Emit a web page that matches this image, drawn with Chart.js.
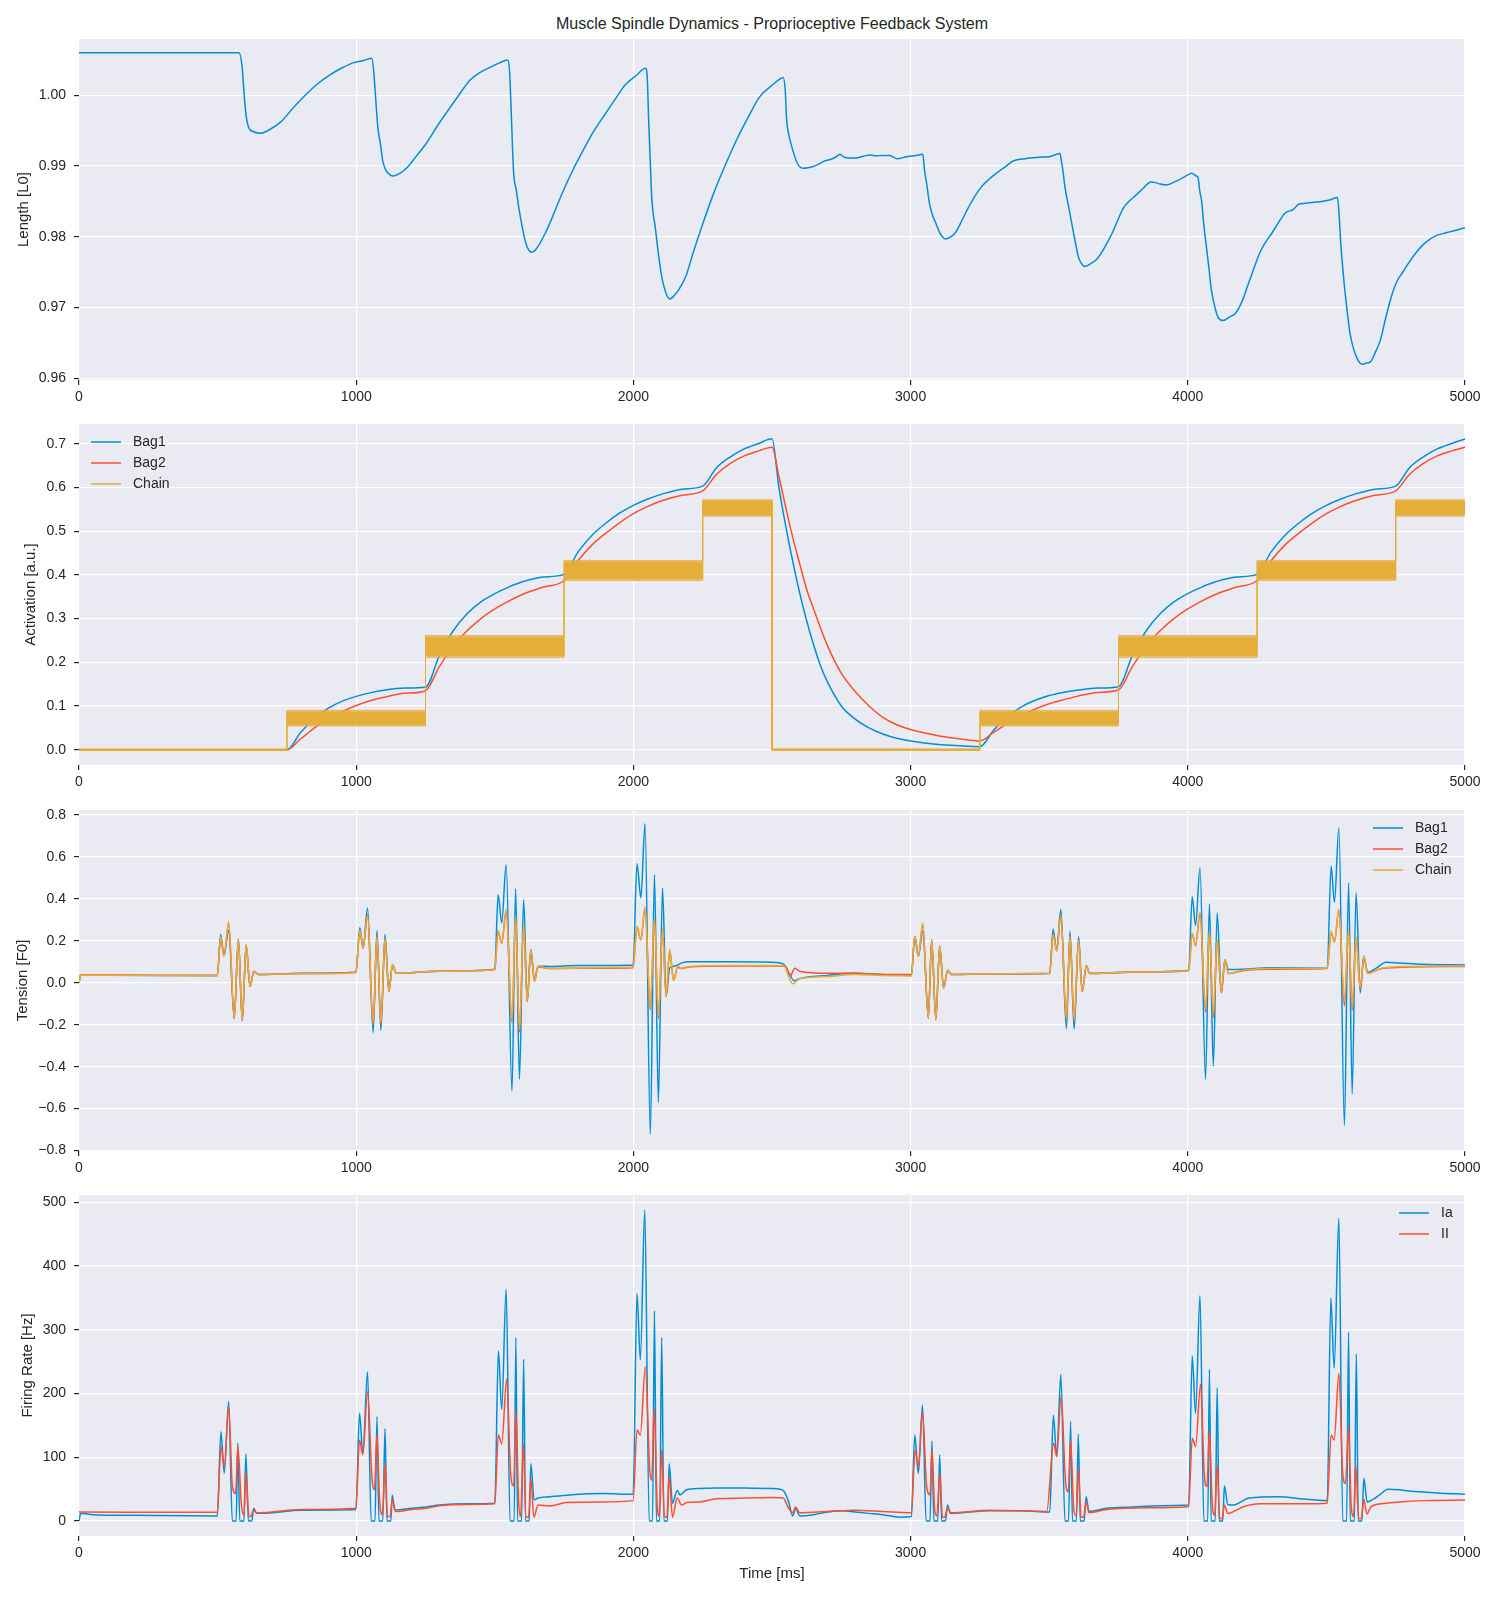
<!DOCTYPE html>
<html lang="en">
<head>
  <meta charset="UTF-8">
  <title>Muscle Spindle Dynamics</title>
  <script src="https://cdn.jsdelivr.net/npm/chart.js"></script>
  <style>
    body { margin: 0; background: #fff; }
    #wrap { position: relative; width: 1500px; height: 1600px; }
    #wrap canvas { position: absolute; left: 0; }
    #title { position: absolute; left: 79px; width: 1386px; top: 15px; text-align: center;
             font: 16px "Liberation Sans", Arial, sans-serif; color: #262626; line-height: 18px; }
  </style>
</head>
<body>
<div id="wrap">
  <div id="title">Muscle Spindle Dynamics - Proprioceptive Feedback System</div>
  <canvas id="lengthChart" width="1500" height="385" style="top:27px"></canvas>
  <canvas id="activationChart" width="1500" height="385" style="top:412px"></canvas>
  <canvas id="tensionChart" width="1500" height="385" style="top:798px"></canvas>
  <canvas id="firingChart" width="1500" height="417" style="top:1183px"></canvas>
</div>

<script>
  // ---- data: [time ms, value] ----
  const xTicks = [0, 1000, 2000, 3000, 4000, 5000];
  const xTickLabels = ['0', '1000', '2000', '3000', '4000', '5000'];

  const lengthTicks = [0.96, 0.97, 0.98, 0.99, 1.00];
  const lengthTickLabels = ['0.96', '0.97', '0.98', '0.99', '1.00'];
  const activationTicks = [0, 0.1, 0.2, 0.3, 0.4, 0.5, 0.6, 0.7];
  const activationTickLabels = ['0.0', '0.1', '0.2', '0.3', '0.4', '0.5', '0.6', '0.7'];
  const tensionTicks = [-0.8, -0.6, -0.4, -0.2, 0, 0.2, 0.4, 0.6, 0.8];
  const tensionTickLabels = ['\u22120.8', '\u22120.6', '\u22120.4', '\u22120.2', '0.0', '0.2', '0.4', '0.6', '0.8'];
  const firingTicks = [0, 100, 200, 300, 400, 500];
  const firingTickLabels = ['0', '100', '200', '300', '400', '500'];

  const fiberNames = ['Bag1', 'Bag2', 'Chain'];
  const afferentNames = ['Ia', 'II'];

  const lengthL0 = [
    [0,1.00603],[577,1.00603],[588,1.0042],[597,0.9995],[604,0.9968],[612,0.99545],[630,0.99485],[654,0.99463],[690,0.9952],
    [729,0.99628],[770,0.9981],[816,1.0000],[860,1.0016],[904,1.00287],[950,1.0039],[991,1.00462],[1030,1.00495],[1056,1.00525],
    [1063,1.0035],[1070,0.9997],[1078,0.9955],[1087,0.99322],[1096,0.9907],[1108,0.98935],[1122,0.98875],[1135,0.9886],[1160,0.98905],
    [1184,0.9898],[1215,0.9913],[1253,0.99322],[1295,0.9958],[1341,0.9984],[1375,1.0003],[1411,1.00217],[1445,1.0032],[1481,1.00391],
    [1515,1.00455],[1547,1.005],
    [1553,1.0035],[1558,0.999],[1564,0.9925],[1568,0.989],[1578,0.9865],[1586,0.98427],[1600,0.9812],[1612,0.97909],[1623,0.9781],
    [1633,0.97781],[1650,0.9783],[1682,0.9805],[1710,0.983],[1743,0.98615],[1780,0.9893],[1813,0.9918],[1858,0.995],[1900,0.99746],
    [1935,0.9995],[1970,1.00146],[2010,1.0028],[2044,1.00382],
    [2050,1.0025],[2055,0.9965],[2062,0.9895],[2066,0.98568],[2080,0.981],[2093,0.97673],[2105,0.9738],[2114,0.97249],[2122,0.9716],
    [2131,0.97122],[2145,0.9716],[2163,0.97249],[2190,0.9745],[2215,0.97767],[2250,0.9818],[2285,0.98568],[2330,0.99],[2372,0.99369],
    [2410,0.9966],[2456,0.99981],[2500,1.0014],[2541,1.0025],
    [2548,1.0005],[2553,0.9965],[2560,0.9945],[2568,0.9932],[2577,0.992],[2590,0.9905],[2611,0.98968],[2630,0.98975],[2646,0.9899],
    [2670,0.9903],[2690,0.99072],[2716,0.991],[2735,0.9914],[2745,0.99166],[2758,0.9913],[2775,0.99114],[2803,0.99114],[2830,0.9914],
    [2855,0.99155],[2875,0.99145],[2900,0.9915],[2925,0.99148],[2951,0.99102],[2986,0.99133],[3020,0.9915],[3044,0.99166],
    [3050,0.9895],[3058,0.9875],[3068,0.98474],[3078,0.9832],[3091,0.98191],[3105,0.9806],[3115,0.98],[3126,0.9797],[3142,0.97995],
    [3160,0.9805],[3180,0.9819],[3204,0.9838],[3230,0.9856],[3256,0.98709],[3285,0.9882],[3317,0.98921],[3345,0.99],[3370,0.99072],
    [3413,0.99105],[3466,0.99124],[3500,0.99133],[3539,0.99176],
    [3545,0.9905],[3549,0.9895],[3557,0.987],[3570,0.98427],[3588,0.9805],[3597,0.9787],[3605,0.9772],[3615,0.9763],[3628,0.97579],
    [3650,0.9762],[3675,0.97697],[3700,0.9785],[3727,0.9805],[3767,0.98403],[3790,0.9851],[3814,0.98592],[3840,0.9869],[3867,0.98775],
    [3884,0.98766],[3900,0.98745],[3919,0.98733],[3935,0.98745],[3954,0.9878],[3985,0.9884],[4015,0.98898],[4030,0.9886],[4037,0.98841],
    [4043,0.9865],[4050,0.985],[4057,0.982],[4064,0.97956],[4075,0.976],[4085,0.97249],[4098,0.97],[4111,0.96849],[4128,0.96816],
    [4150,0.96865],[4172,0.9692],[4195,0.9708],[4215,0.97296],[4240,0.9757],[4259,0.97767],[4280,0.9792],[4303,0.9805],[4327,0.982],
    [4350,0.98333],[4381,0.98389],[4400,0.9846],[4425,0.98474],[4455,0.9849],[4477,0.98497],[4510,0.9852],[4540,0.98554],
    [4546,0.983],[4552,0.979],[4564,0.97343],[4575,0.9695],[4585,0.96637],[4597,0.9643],[4608,0.96307],[4620,0.9622],[4630,0.96199],
    [4645,0.96215],[4660,0.96236],[4678,0.9638],[4695,0.96543],[4715,0.9687],[4738,0.97202],[4755,0.97375],[4773,0.97485],[4795,0.9762],
    [4817,0.97744],[4855,0.9791],[4895,0.98017],[4920,0.98045],[4948,0.98073],[4975,0.981],[5000,0.9813]
  ];

  const activationBag1 = [
    [0,0],[750,0],[800,0.04],[850,0.072],[900,0.095],[950,0.111],[1000,0.122],[1050,0.13],[1100,0.136],[1175,0.141],[1250,0.143],
    [1300,0.215],[1350,0.272],[1400,0.311],[1450,0.338],[1500,0.357],[1550,0.372],[1600,0.384],[1675,0.395],[1750,0.401],
    [1800,0.452],[1850,0.49],[1900,0.518],[1950,0.541],[2000,0.559],[2050,0.573],[2100,0.584],[2175,0.596],[2250,0.603],
    [2300,0.645],[2350,0.67],[2400,0.688],[2450,0.7],[2500,0.711],
    [2525,0.6],[2550,0.51],[2575,0.43],[2600,0.358],[2625,0.295],[2650,0.24],[2675,0.192],[2700,0.155],[2750,0.1],[2800,0.07],
    [2850,0.05],[2900,0.036],[2950,0.026],[3000,0.02],[3100,0.012],[3175,0.009],[3250,0.007],
    [3300,0.045],[3350,0.075],[3400,0.098],[3450,0.113],[3500,0.124],[3550,0.131],[3600,0.136],[3675,0.141],[3750,0.144],
    [3800,0.215],[3850,0.272],[3900,0.311],[3950,0.338],[4000,0.357],[4050,0.372],[4100,0.384],[4175,0.395],[4250,0.401],
    [4300,0.452],[4350,0.49],[4400,0.518],[4450,0.541],[4500,0.559],[4550,0.573],[4600,0.584],[4675,0.596],[4750,0.603],
    [4800,0.645],[4850,0.67],[4900,0.688],[4950,0.7],[5000,0.711]
  ];
  const activationBag2 = [
    [0,0],[750,0],[800,0.025],[850,0.05],[900,0.07],[950,0.087],[1000,0.101],[1050,0.112],[1100,0.12],[1175,0.129],[1250,0.135],
    [1300,0.19],[1350,0.237],[1400,0.272],[1450,0.3],[1500,0.322],[1550,0.34],[1600,0.355],[1675,0.372],[1750,0.387],
    [1800,0.432],[1850,0.468],[1900,0.495],[1950,0.519],[2000,0.54],[2050,0.556],[2100,0.569],[2175,0.582],[2250,0.592],
    [2300,0.63],[2350,0.655],[2400,0.672],[2450,0.683],[2500,0.692],
    [2525,0.625],[2550,0.553],[2575,0.485],[2600,0.425],[2625,0.367],[2650,0.322],[2700,0.238],[2750,0.175],[2800,0.133],
    [2850,0.1],[2900,0.074],[2950,0.057],[3000,0.046],[3100,0.032],[3175,0.025],[3250,0.02],
    [3300,0.04],[3350,0.06],[3400,0.078],[3450,0.093],[3500,0.105],[3550,0.114],[3600,0.122],[3675,0.131],[3750,0.137],
    [3800,0.19],[3850,0.237],[3900,0.272],[3950,0.3],[4000,0.322],[4050,0.34],[4100,0.355],[4175,0.372],[4250,0.387],
    [4300,0.432],[4350,0.468],[4400,0.495],[4450,0.519],[4500,0.54],[4550,0.556],[4600,0.569],[4675,0.582],[4750,0.592],
    [4800,0.63],[4850,0.655],[4900,0.672],[4950,0.683],[5000,0.692]
  ];
  // chain fibre: stepped drive with a noisy band (dense core + spiky fringe)
  const chainStarts = [0, 750, 1250, 1750, 2250, 2500, 3250, 3750, 4250, 4750];
  const chainLevels = [0, 0.072, 0.236, 0.41, 0.553, 0, 0.072, 0.236, 0.41, 0.553];
  const chainCore = [0.0012, 0.014, 0.02, 0.019, 0.015, 0.0012, 0.014, 0.02, 0.019, 0.015];
  const chainFringe = [0.0016, 0.018, 0.025, 0.023, 0.019, 0.0016, 0.018, 0.025, 0.023, 0.019];

  const tensionBag1 = [
    [0,0],[6,0.038],[100,0.036],[300,0.035],[499,0.035],
    [511,0.23],[523,0.13],[540,0.25],[560,-0.17],[575,0.21],[589,-0.18],[603,0.18],[617,-0.016],[631,0.055],[647,0.04],[800,0.045],[999,0.05],
    [1013,0.262],[1025,0.167],[1041,0.357],[1061,-0.238],[1075,0.25],[1089,-0.227],[1104,0.23],[1118,-0.04],[1131,0.087],[1145,0.045],[1300,0.055],[1500,0.065],
    [1512,0.42],[1525,0.286],[1541,0.563],[1562,-0.516],[1575,0.448],[1589,-0.46],[1604,0.397],[1617,-0.087],[1630,0.159],[1643,0.016],[1656,0.079],
    [1700,0.078],[1800,0.082],[1999,0.085],
    [2013,0.568],[2027,0.405],[2042,0.759],[2061,-0.722],[2076,0.516],[2090,-0.571],[2105,0.452],[2118,-0.064],[2131,0.07],[2150,0.08],[2175,0.095],
    [2200,0.1],[2350,0.1],[2500,0.098],[2540,0.09],[2560,0.05],[2580,0.01],[2600,0.02],[2700,0.035],[2800,0.045],[2900,0.04],[3003,0.035],
    [3015,0.222],[3028,0.127],[3044,0.246],[3064,-0.167],[3076,0.206],[3091,-0.173],[3105,0.175],[3119,-0.024],[3134,0.06],[3147,0.04],[3300,0.042],[3502,0.044],
    [3514,0.255],[3527,0.154],[3542,0.349],[3562,-0.22],[3575,0.246],[3590,-0.222],[3606,0.22],[3619,-0.04],[3634,0.083],[3646,0.044],[3800,0.052],[4003,0.06],
    [4016,0.41],[4028,0.273],[4044,0.548],[4064,-0.46],[4078,0.376],[4092,-0.397],[4106,0.333],[4121,-0.048],[4134,0.11],[4147,0.063],[4200,0.065],[4300,0.072],[4503,0.07],
    [4517,0.556],[4529,0.384],[4545,0.738],[4565,-0.68],[4580,0.476],[4593,-0.529],[4607,0.429],[4622,-0.048],[4635,0.127],[4649,0.05],[4680,0.07],
    [4715,0.098],[4760,0.095],[4850,0.088],[5000,0.085]
  ];
  const tensionBag2 = [
    [0,0],[6,0.038],[499,0.035],
    [511,0.22],[523,0.128],[540,0.28],[560,-0.17],[575,0.205],[589,-0.18],[603,0.178],[617,-0.018],[631,0.054],[647,0.04],[800,0.044],[999,0.05],
    [1013,0.25],[1025,0.165],[1041,0.325],[1061,-0.2],[1075,0.222],[1089,-0.2],[1104,0.21],[1118,-0.042],[1131,0.085],[1145,0.045],[1300,0.055],[1500,0.063],
    [1512,0.245],[1525,0.188],[1541,0.34],[1562,-0.19],[1575,0.31],[1589,-0.235],[1604,0.27],[1617,-0.09],[1630,0.155],[1643,0.006],[1656,0.075],
    [1700,0.068],[1850,0.07],[1999,0.072],
    [2013,0.265],[2027,0.204],[2042,0.355],[2061,-0.13],[2076,0.3],[2090,-0.17],[2105,0.25],[2118,-0.066],[2131,0.15],[2145,0.012],[2160,0.075],
    [2172,0.068],[2200,0.075],[2350,0.08],[2500,0.08],[2550,0.078],[2565,0.03],[2582,0.07],[2600,0.055],[2700,0.045],[2800,0.045],[2900,0.04],[3003,0.04],
    [3015,0.22],[3028,0.128],[3044,0.275],[3064,-0.17],[3076,0.205],[3091,-0.176],[3105,0.173],[3119,-0.026],[3134,0.058],[3147,0.04],[3300,0.043],[3502,0.045],
    [3514,0.232],[3527,0.152],[3542,0.322],[3562,-0.18],[3575,0.224],[3590,-0.185],[3606,0.2],[3619,-0.042],[3634,0.08],[3646,0.045],[3800,0.05],[4003,0.057],
    [4016,0.235],[4028,0.176],[4044,0.33],[4064,-0.14],[4078,0.24],[4092,-0.165],[4106,0.2],[4121,-0.045],[4134,0.105],[4147,0.044],[4200,0.058],[4300,0.065],[4503,0.068],
    [4517,0.24],[4529,0.195],[4545,0.345],[4565,-0.11],[4580,0.25],[4593,-0.13],[4607,0.215],[4622,-0.03],[4635,0.12],[4649,0.045],[4700,0.068],
    [4800,0.075],[5000,0.078]
  ];
  const tensionChain = [
    [0,0],[6,0.037],[499,0.034],
    [511,0.22],[523,0.127],[540,0.293],[560,-0.167],[575,0.206],[589,-0.178],[603,0.18],[617,-0.016],[631,0.055],[647,0.04],[800,0.043],[999,0.048],
    [1013,0.25],[1025,0.167],[1041,0.32],[1061,-0.19],[1075,0.22],[1089,-0.19],[1104,0.21],[1118,-0.04],[1131,0.087],[1145,0.045],[1300,0.055],[1500,0.062],
    [1512,0.25],[1525,0.19],[1541,0.349],[1562,-0.175],[1575,0.317],[1589,-0.222],[1604,0.278],[1617,-0.087],[1630,0.159],[1643,0.008],[1656,0.079],
    [1700,0.068],[1850,0.072],[1999,0.075],
    [2013,0.27],[2027,0.206],[2042,0.362],[2061,-0.119],[2076,0.31],[2090,-0.159],[2105,0.257],[2118,-0.064],[2131,0.16],[2145,0.01],[2160,0.08],
    [2172,0.07],[2200,0.078],[2350,0.082],[2500,0.082],[2545,0.078],[2560,0.03],[2575,-0.005],[2600,0.02],[2700,0.03],[2800,0.04],[2900,0.035],[3003,0.033],
    [3015,0.222],[3028,0.127],[3044,0.286],[3064,-0.167],[3076,0.206],[3091,-0.173],[3105,0.175],[3119,-0.024],[3134,0.06],[3147,0.04],[3300,0.043],[3502,0.045],
    [3514,0.23],[3527,0.154],[3542,0.317],[3562,-0.167],[3575,0.222],[3590,-0.175],[3606,0.2],[3619,-0.04],[3634,0.083],[3646,0.044],[3800,0.052],[4003,0.058],
    [4016,0.238],[4028,0.178],[4044,0.337],[4064,-0.127],[4078,0.246],[4092,-0.151],[4106,0.206],[4121,-0.04],[4134,0.11],[4147,0.044],[4200,0.06],[4300,0.068],[4503,0.07],
    [4517,0.246],[4529,0.198],[4545,0.352],[4565,-0.087],[4580,0.254],[4593,-0.119],[4607,0.222],[4622,-0.024],[4635,0.127],[4649,0.044],[4700,0.07],
    [4800,0.078],[5000,0.08]
  ];

  const firingIa = [
    [0,0],[6,12],[50,10],[200,9],[499,8],
    [512,140],[524,75],[540,188],[553,0],[567,0],[573,122],[580,0],[595,0],[602,105],[611,0],[623,0],[630,20],[641,12],[700,13],[800,17],[999,18],
    [1012,169],[1024,106],[1041,234],[1054,0],[1068,0],[1075,164],[1082,0],[1096,0],[1104,145],[1111,0],[1125,0],[1130,41],[1139,17],[1200,20],
    [1253,22],[1300,25],[1400,27],[1500,28],
    [1513,267],[1525,175],[1541,364],[1555,0],[1570,0],[1576,288],[1582,0],[1597,0],[1604,254],[1611,0],[1624,0],[1630,90],[1642,33],[1656,36],
    [1698,38],[1770,41],[1890,43],[1999,42],
    [2013,357],[2025,253],[2041,488],[2057,0],[2069,0],[2076,330],[2083,0],[2095,0],[2102,288],[2110,0],[2123,0],[2129,90],[2141,28],[2158,48],
    [2168,41],[2192,49],[2240,51],[2300,52],[2400,52],[2500,51],[2540,48],[2560,30],[2575,8],[2585,20],[2600,8],[2650,10],[2700,14],[2750,16],
    [2800,14],[2850,12],[2900,10],[2960,6],[3003,7],
    [3015,135],[3028,75],[3043,182],[3056,0],[3070,0],[3077,126],[3084,0],[3098,0],[3105,104],[3112,0],[3126,0],[3133,25],[3144,12],[3286,16],
    [3407,16],[3502,14],
    [3515,166],[3527,101],[3542,230],[3557,0],[3570,0],[3577,156],[3584,0],[3598,0],[3605,136],[3612,0],[3626,0],[3633,38],[3644,15],[3707,20],
    [3800,22],[3900,24],[4003,25],
    [4016,259],[4028,169],[4044,354],[4058,0],[4072,0],[4078,238],[4084,0],[4099,0],[4106,209],[4113,0],[4126,0],[4132,55],[4144,26],[4162,25],
    [4222,36],[4330,38],[4402,35],[4503,32],
    [4516,350],[4528,240],[4545,475],[4559,0],[4573,0],[4580,296],[4586,0],[4601,0],[4608,262],[4615,0],[4628,0],[4635,67],[4647,30],[4668,34],
    [4692,41],[4722,50],[4764,49],[4800,47],[4900,44],[5000,42]
  ];
  const firingII = [
    [0,14],[499,13.6],
    [512,117],[524,85],[540,179],[553,56],[565,43],[573,117],[586,25],[595,9],[602,77],[613,7],[620,8],[630,17],[641,13],[800,18],[999,20],
    [1012,127],[1024,104],[1041,203],[1057,67],[1066,49],[1075,135],[1085,28],[1095,10],[1104,90],[1113,7],[1122,7],[1130,33],[1143,15],[1200,18],
    [1253,20],[1300,24],[1400,26],[1500,27],
    [1513,135],[1525,121],[1543,223],[1557,75],[1568,55],[1576,174],[1586,30],[1593,7],[1603,121],[1612,7],[1622,6],[1630,67],[1641,6],[1656,25],
    [1698,23.5],[1758,29],[1890,30],[1999,32],
    [2013,143],[2025,135],[2043,242],[2059,80],[2066,64],[2075,177],[2086,25],[2094,7],[2102,111],[2112,7],[2121,6],[2129,70],[2141,6],[2158,36],
    [2174,25],[2192,29],[2240,30],[2300,35],[2400,36],[2500,37],[2540,36],[2560,20],[2575,13],[2585,22],[2600,13],[2700,15],[2800,17],[2900,15],[3003,13],
    [3016,111],[3028,85],[3043,172],[3058,54],[3070,41],[3077,112],[3087,17],[3095,8],[3105,75],[3115,6],[3123,6],[3133,20],[3146,13],[3286,17],[3491,15],
    [3516,122],[3527,101],[3543,196],[3559,62],[3569,46],[3577,127],[3589,17],[3598,8],[3605,83],[3615,6],[3624,6],[3633,30],[3644,13],[3707,18],
    [3850,21],[4003,22.5],
    [4016,130],[4028,117],[4046,215],[4060,70],[4069,54],[4078,140],[4088,28],[4097,9],[4106,88],[4115,4],[4124,4],[4132,25],[4144,12],[4200,22.5],
    [4260,27],[4418,27],[4503,28],
    [4517,135],[4528,127],[4545,232],[4559,75],[4569,59],[4580,149],[4589,28],[4598,7],[4606,88],[4616,4],[4626,4],[4635,34],[4646,11],[4661,22.5],
    [4715,28],[4764,30],[4850,32],[5000,33]
  ];

  // ---- drawing ----
  const BLUE = '#008fd5', RED = '#fc4f30', YELLOW = '#e5ae38';
  const INK = '#262626';
  const FAMILY = '"Liberation Sans", Arial, Helvetica, sans-serif';

  const pts = arr => arr.map(([x, y]) => ({ x, y }));

  function chainEdge(spread, sign) {
    const out = [];
    chainStarts.forEach((t, i) => {
      const y = chainLevels[i] + sign * spread[i];
      const end = i + 1 < chainStarts.length ? chainStarts[i + 1] : 5000;
      out.push({ x: t, y }, { x: end, y });
    });
    return out;
  }

  const plotBg = {
    id: 'plotBg',
    beforeDraw(chart) {
      const { ctx, chartArea: a } = chart;
      ctx.save();
      ctx.fillStyle = '#eaeaf2';
      ctx.fillRect(a.left, a.top, a.right - a.left, a.bottom - a.top);
      ctx.restore();
    }
  };

  // matplotlib-like legend without frame, inside the axes
  const spindleLegend = {
    id: 'spindleLegend',
    afterDraw(chart, args, opts) {
      if (!opts || !opts.items) return;
      const { ctx, chartArea: a } = chart;
      const x0 = opts.side === 'left' ? a.left + opts.dx : a.right - opts.dx;
      ctx.save();
      ctx.font = '14px ' + FAMILY;
      ctx.textBaseline = 'middle';
      opts.items.forEach((it, i) => {
        const y = a.top + 18 + i * 21;
        ctx.strokeStyle = it.color;
        ctx.lineWidth = 1.5;
        ctx.beginPath();
        ctx.moveTo(x0, y);
        ctx.lineTo(x0 + 30, y);
        ctx.stroke();
        ctx.fillStyle = INK;
        ctx.fillText(it.label, x0 + 42, y);
      });
      ctx.restore();
    }
  };

  function line(label, data, color, order) {
    return {
      label, data: pts(data), borderColor: color, backgroundColor: color, borderWidth: 1.5,
      pointRadius: 0, fill: false, order, cubicInterpolationMode: 'monotone'
    };
  }

  function band(label, spread, sign, fill, alpha) {
    return {
      label, data: chainEdge(spread, sign), borderColor: 'rgba(229,174,56,' + alpha + ')',
      backgroundColor: 'rgba(229,174,56,' + alpha + ')', borderWidth: 1, pointRadius: 0, fill, order: 0, tension: 0
    };
  }

  function panel(id, cfg) {
    const ctx = document.getElementById(id).getContext('2d');
    const tickFont = { family: FAMILY, size: 14 };
    return new Chart(ctx, {
      type: 'line',
      data: { datasets: cfg.datasets },
      options: {
        responsive: false,
        animation: false,
        devicePixelRatio: 1,
        layout: { padding: { top: 12, right: 35, left: 0, bottom: 0 } },
        plugins: {
          legend: { display: false },
          tooltip: { enabled: false },
          spindleLegend: cfg.legend || false
        },
        scales: {
          x: {
            type: 'linear', min: 0, max: 5000,
            afterBuildTicks: s => { s.ticks = xTicks.map(v => ({ value: v })); },
            afterFit: s => { s.height = cfg.xHeight; s.paddingLeft = 0; s.paddingRight = 0; },
            ticks: { callback: (v, i) => xTickLabels[i], font: tickFont, color: INK, padding: 4, maxRotation: 0, autoSkip: false },
            grid: { color: '#ffffff', lineWidth: 1.2, tickColor: INK, tickLength: 5 },
            border: { display: false },
            title: cfg.xTitle
              ? { display: true, text: cfg.xTitle, color: INK, font: { family: FAMILY, size: 15 }, padding: { top: 0, bottom: 17 } }
              : { display: false }
          },
          y: {
            type: 'linear', min: cfg.yMin, max: cfg.yMax,
            afterBuildTicks: s => { s.ticks = cfg.yTicks.map(v => ({ value: v })); },
            afterFit: s => { s.width = 79; s.paddingTop = 0; s.paddingBottom = 0; },
            ticks: { callback: (v, i) => cfg.yLabels[i], font: tickFont, color: INK, padding: 8, autoSkip: false },
            grid: { color: '#ffffff', lineWidth: 1.2, tickColor: INK, tickLength: 5 },
            border: { display: false },
            title: { display: true, text: cfg.yTitle, color: INK, font: { family: FAMILY, size: 15 }, padding: { top: cfg.yTitlePad, bottom: 0 } }
          }
        }
      },
      plugins: [plotBg, spindleLegend]
    });
  }

  panel('lengthChart', {
    datasets: [line('Length', lengthL0, BLUE, 0)],
    yMin: 0.95976, yMax: 1.00796, yTicks: lengthTicks, yLabels: lengthTickLabels,
    yTitle: 'Length [L0]', yTitlePad: 15, xHeight: 32
  });

  panel('activationChart', {
    datasets: [
      line(fiberNames[0], activationBag1, BLUE, 2),
      line(fiberNames[1], activationBag2, RED, 1),
      band(fiberNames[2], chainCore, 1, '+1', 1),
      band('_chainCoreLow', chainCore, -1, false, 1),
      band('_chainFringeHigh', chainFringe, 1, '+1', 0.7),
      band('_chainFringeLow', chainFringe, -1, false, 0.7)
    ],
    yMin: -0.035, yMax: 0.745, yTicks: activationTicks, yLabels: activationTickLabels,
    yTitle: 'Activation [a.u.]', yTitlePad: 22, xHeight: 32,
    legend: { side: 'left', dx: 12, items: [
      { label: fiberNames[0], color: BLUE }, { label: fiberNames[1], color: RED }, { label: fiberNames[2], color: YELLOW }] }
  });

  panel('tensionChart', {
    datasets: [
      line(fiberNames[0], tensionBag1, BLUE, 2),
      line(fiberNames[1], tensionBag2, RED, 1),
      line(fiberNames[2], tensionChain, YELLOW, 0)
    ],
    yMin: -0.802, yMax: 0.824, yTicks: tensionTicks, yLabels: tensionTickLabels,
    yTitle: 'Tension [F0]', yTitlePad: 13.5, xHeight: 32,
    legend: { side: 'right', dx: 92, items: [
      { label: fiberNames[0], color: BLUE }, { label: fiberNames[1], color: RED }, { label: fiberNames[2], color: YELLOW }] }
  });

  panel('firingChart', {
    datasets: [
      line(afferentNames[0], firingIa, BLUE, 1),
      line(afferentNames[1], firingII, RED, 0)
    ],
    yMin: -23.5, yMax: 511.5, yTicks: firingTicks, yLabels: firingTickLabels,
    yTitle: 'Firing Rate [Hz]', yTitlePad: 18.5, xHeight: 64, xTitle: 'Time [ms]',
    legend: { side: 'right', dx: 66, items: [
      { label: afferentNames[0], color: BLUE }, { label: afferentNames[1], color: RED }] }
  });
</script>
</body>
</html>
